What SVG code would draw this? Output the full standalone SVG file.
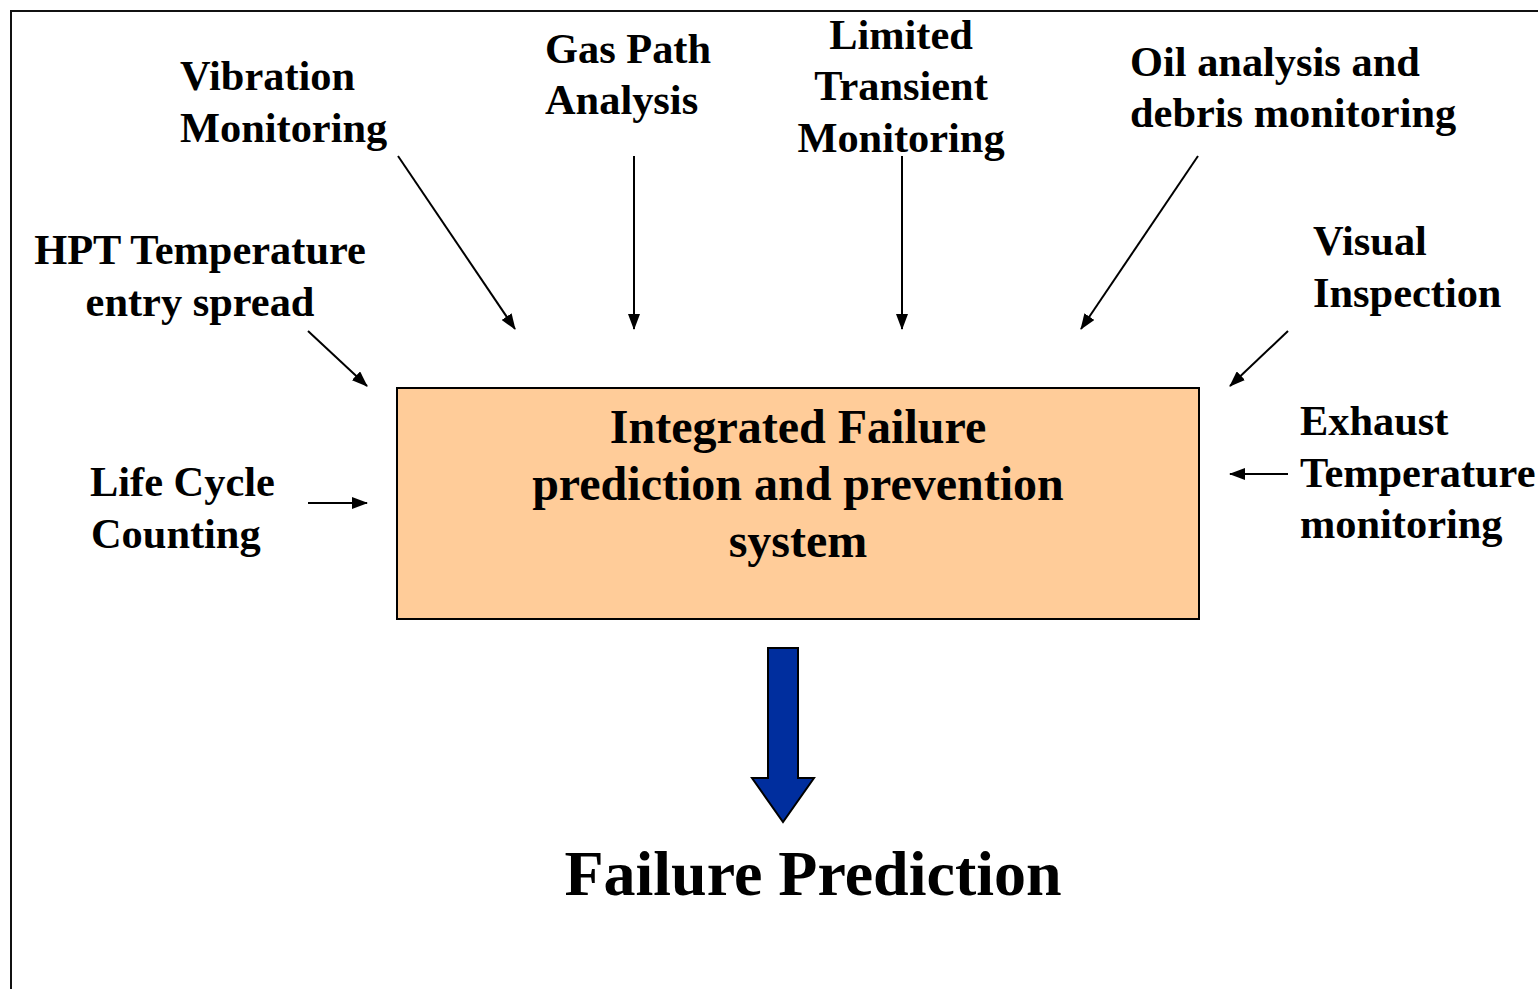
<svg xmlns="http://www.w3.org/2000/svg" width="1538" height="989" viewBox="0 0 1538 989">
  <defs>
    <marker id="head" viewBox="0 0 16 12" refX="15" refY="6" markerWidth="16" markerHeight="12" markerUnits="userSpaceOnUse" orient="auto">
      <path d="M0,0 L16,6 L0,12 Z" fill="#000"/>
    </marker>
    <style>
      .lbl { font-family: "Liberation Serif", "Times New Roman", serif; font-weight: bold; font-size: 42.4px; fill: #000; }
      .core { font-family: "Liberation Serif", "Times New Roman", serif; font-weight: bold; font-size: 48px; fill: #000; }
      .out { font-family: "Liberation Serif", "Times New Roman", serif; font-weight: bold; font-size: 64px; fill: #000; }
      .con { stroke: #000; stroke-width: 2; fill: none; marker-end: url(#head); }
    </style>
  </defs>

  <rect width="1538" height="989" fill="#fff"/>
  <!-- frame -->
  <path d="M11,989 L11,11 L1538,11" fill="none" stroke="#111" stroke-width="2"/>

  <g id="vibration">
    <text class="lbl" x="180" y="90">Vibration</text>
    <text class="lbl" x="180" y="142">Monitoring</text>
  </g>
  <g id="gas-path">
    <text class="lbl" x="545" y="63">Gas Path</text>
    <text class="lbl" x="545" y="114">Analysis</text>
  </g>
  <g id="transient">
    <text class="lbl" x="901" y="49" text-anchor="middle">Limited</text>
    <text class="lbl" x="901" y="100" text-anchor="middle">Transient</text>
    <text class="lbl" x="901" y="152" text-anchor="middle">Monitoring</text>
  </g>
  <g id="oil">
    <text class="lbl" x="1130" y="76">Oil analysis and</text>
    <text class="lbl" x="1130" y="127">debris monitoring</text>
  </g>
  <g id="hpt">
    <text class="lbl" x="200" y="264" text-anchor="middle">HPT Temperature</text>
    <text class="lbl" x="200" y="316" text-anchor="middle">entry spread</text>
  </g>
  <g id="visual">
    <text class="lbl" x="1313" y="255">Visual</text>
    <text class="lbl" x="1313" y="307">Inspection</text>
  </g>
  <g id="life-cycle">
    <text class="lbl" x="90" y="496">Life Cycle</text>
    <text class="lbl" x="91" y="548">Counting</text>
  </g>
  <g id="exhaust">
    <text class="lbl" x="1300" y="435">Exhaust</text>
    <text class="lbl" x="1300" y="487">Temperature</text>
    <text class="lbl" x="1300" y="538">monitoring</text>
  </g>

  <g id="system">
    <rect x="397" y="388" width="802" height="231" fill="#FFCC99" stroke="#000" stroke-width="2"/>
    <text class="core" x="798" y="443" text-anchor="middle">Integrated Failure</text>
    <text class="core" x="798" y="500" text-anchor="middle">prediction and prevention</text>
    <text class="core" x="798" y="557" text-anchor="middle">system</text>
  </g>

  <g id="connectors">
    <line class="con" x1="398" y1="156" x2="515" y2="329"/>
    <line class="con" x1="634" y1="156" x2="634" y2="329"/>
    <line class="con" x1="902" y1="156" x2="902" y2="329"/>
    <line class="con" x1="1198" y1="156" x2="1081" y2="329"/>
    <line class="con" x1="308" y1="331" x2="367" y2="386"/>
    <line class="con" x1="1288" y1="331" x2="1230" y2="386"/>
    <line class="con" x1="308" y1="503" x2="367" y2="503"/>
    <line class="con" x1="1288" y1="474" x2="1230" y2="474"/>
    <!-- output arrow -->
    <path d="M768,648 L798,648 L798,778 L814,778 L783,822 L752,778 L768,778 Z" fill="#002E9E" stroke="#000" stroke-width="2" stroke-linejoin="miter"/>
  </g>

  <g id="failure-prediction">
    <text class="out" x="813" y="895" text-anchor="middle">Failure Prediction</text>
  </g>
</svg>
